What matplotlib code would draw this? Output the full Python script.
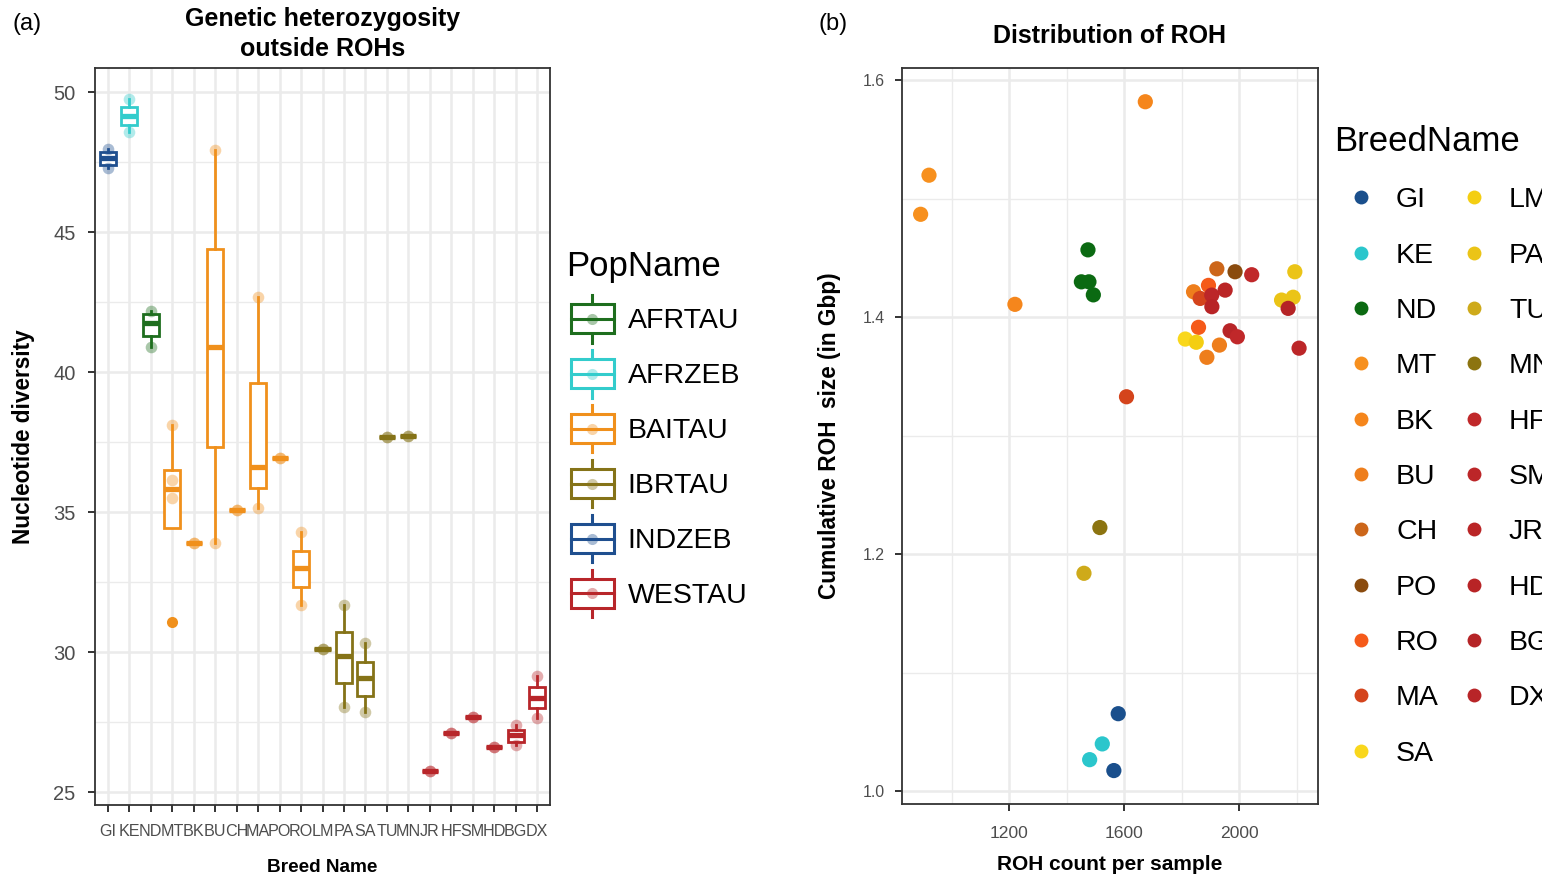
import matplotlib
matplotlib.use('Agg')
import matplotlib.pyplot as plt
from matplotlib.lines import Line2D
from matplotlib.patches import Rectangle
from matplotlib.legend_handler import HandlerBase
from matplotlib.ticker import MultipleLocator, FixedLocator
import numpy as np

plt.rcParams['font.family'] = ['Liberation Sans', 'DejaVu Sans']

# ---------------- data: panel (a) ----------------
breeds = ['GI', 'KE', 'ND', 'MT', 'BK', 'BU', 'CH', 'MA', 'PO', 'RO', 'LM',
          'PA', 'SA', 'TU', 'MN', 'JR', 'HF', 'SM', 'HD', 'BG', 'DX']
breed_pop = ['INDZEB', 'AFRZEB', 'AFRTAU', 'BAITAU', 'BAITAU', 'BAITAU', 'BAITAU',
             'BAITAU', 'BAITAU', 'BAITAU', 'IBRTAU', 'IBRTAU', 'IBRTAU', 'IBRTAU',
             'IBRTAU', 'WESTAU', 'WESTAU', 'WESTAU', 'WESTAU', 'WESTAU', 'WESTAU']
pops = ['AFRTAU', 'AFRZEB', 'BAITAU', 'IBRTAU', 'INDZEB', 'WESTAU']
pop_colors = ['#1E6E1E', '#33CCCC', '#F0901C', '#857318', '#1F4F8F', '#B8262A']

div_whislo = [47.30, 48.58, 40.88, 34.42, 33.88, 33.88, 35.07, 35.13, 36.95, 31.68, 30.10,
              28.05, 27.87, 37.67, 37.71, 25.75, 27.10, 27.69, 26.60, 26.68, 27.63]
div_q1 = [47.39, 48.82, 41.29, 34.42, 33.88, 37.33, 35.07, 35.85, 36.95, 32.33, 30.10,
          28.90, 28.43, 37.67, 37.71, 25.75, 27.10, 27.69, 26.60, 26.80, 27.99]
div_med = [47.64, 49.15, 41.74, 35.81, 33.88, 40.88, 35.07, 36.62, 36.95, 32.99, 30.10,
           29.86, 29.08, 37.67, 37.71, 25.75, 27.10, 27.69, 26.60, 27.04, 28.35]
div_q3 = [47.86, 49.48, 42.07, 36.50, 33.88, 44.38, 35.07, 39.62, 36.95, 33.60, 30.10,
          30.73, 29.65, 37.67, 37.71, 25.75, 27.10, 27.69, 26.60, 27.21, 28.74]
div_whishi = [47.96, 49.74, 42.19, 38.11, 33.88, 47.93, 35.07, 42.69, 36.95, 34.30, 30.10,
              31.68, 30.31, 37.67, 37.71, 25.75, 27.10, 27.69, 26.60, 27.39, 29.14]
div_outliers = [[], [], [], [31.08], [], [], [], [], [], [], [],
                [], [], [], [], [], [], [], [], [], []]
div_samples = [[47.96, 47.30], [49.74, 48.58], [42.19, 40.88], [38.11, 36.14, 35.50],
               [33.88, 33.88], [47.93, 33.88], [35.07, 35.07], [42.69, 35.13],
               [36.95, 36.95], [34.30, 31.68], [30.10, 30.10], [31.68, 28.05],
               [30.31, 27.87], [37.67, 37.67], [37.71, 37.71], [25.75, 25.75],
               [27.10, 27.10], [27.69, 27.69], [26.60, 26.60], [27.39, 26.68],
               [29.14, 27.63]]

# ---------------- data: panel (b) ----------------
breed_colors = ['#1A4F8C', '#2BC6CC', '#0B6A12', '#F7901E', '#F5861C', '#EE7E1C',
                '#CC661A', '#8A4B0E', '#F55A1A', '#D4441C', '#F9D71C', '#F4CE12',
                '#EBC417', '#CEAA1A', '#8C7410', '#C0282A', '#BC2628', '#BA2526',
                '#B82426', '#B52426', '#B82528']
legend_breeds = ['GI', 'KE', 'ND', 'MT', 'BK', 'BU', 'CH', 'PO', 'RO', 'MA', 'SA',
                 'LM', 'PA', 'TU', 'MN', 'HF', 'SM', 'JR', 'HD', 'BG', 'DX']

roh_breed = ['MT', 'MT', 'BK', 'BK', 'BU', 'BU', 'BU', 'ND', 'ND', 'ND', 'ND',
             'MA', 'MA', 'RO', 'RO', 'CH', 'PO', 'SA', 'LM', 'PA', 'PA', 'PA',
             'TU', 'MN', 'GI', 'GI', 'KE', 'KE',
             'HF', 'SM', 'JR', 'HD', 'BG', 'DX', 'HF', 'SM']
roh_count = [891.8, 920.9, 1673.0, 1219.7, 1840.7, 1930.7, 1887.0, 1473.6, 1450.7, 1477.0, 1492.3,
             1607.6, 1863.8, 1892.6, 1858.0, 1921.7, 1985.0, 1812.0, 1850.0, 2146.7, 2187.0, 2192.8,
             1459.7, 1515.0, 1578.8, 1563.6, 1523.4, 1479.5,
             2042.9, 1904.0, 1950.5, 1904.4, 2169.6, 1967.7, 1993.0, 2207.6]
roh_size = [1.487, 1.520, 1.582, 1.411, 1.4216, 1.3766, 1.3663, 1.457, 1.430, 1.430, 1.419,
            1.333, 1.416, 1.427, 1.3916, 1.441, 1.4385, 1.3817, 1.379, 1.4146, 1.417, 1.4385,
            1.184, 1.2226, 1.0655, 1.0175, 1.040, 1.0267,
            1.436, 1.4188, 1.423, 1.409, 1.4076, 1.3887, 1.3836, 1.374]

# ---------------- figure ----------------
W, H = 1542, 875
fig = plt.figure(figsize=(W / 100, H / 100), dpi=100, facecolor='white')

GRID = '#EBEBEB'
SPINE = '#333333'
TICKC = '#4D4D4D'


def style_axes(ax):
    for s in ax.spines.values():
        s.set_color(SPINE)
        s.set_linewidth(1.3)
    ax.set_axisbelow(True)
    ax.grid(which='major', color=GRID, lw=1.8)
    ax.tick_params(which='major', length=5, width=1.4, color=SPINE, labelcolor=TICKC)
    ax.tick_params(which='minor', length=0)


# ---- panel (a)
ax1 = fig.add_axes([95 / W, 1 - 805 / H, 455 / W, 737 / H])
style_axes(ax1)
pop_col = dict(zip(pops, pop_colors))
stats = []
for i, b in enumerate(breeds):
    stats.append(dict(whislo=div_whislo[i], q1=div_q1[i], med=div_med[i],
                      q3=div_q3[i], whishi=div_whishi[i], fliers=div_outliers[i]))
pos = np.arange(len(breeds))
bp = ax1.bxp(stats, positions=pos, widths=0.75, patch_artist=True, showcaps=False,
             boxprops=dict(facecolor='white', linewidth=2.0),
             whiskerprops=dict(linewidth=2.0), medianprops=dict(linewidth=3.8),
             flierprops=dict(marker='o', markersize=8, markeredgewidth=0))
for i, b in enumerate(breeds):
    c = pop_col[breed_pop[i]]
    bp['boxes'][i].set_edgecolor(c)
    bp['medians'][i].set_color(c)
    bp['medians'][i].set_solid_capstyle('butt')
    bp['whiskers'][2 * i].set_color(c)
    bp['whiskers'][2 * i + 1].set_color(c)
    bp['fliers'][i].set_markerfacecolor(c)
    ys = div_samples[i]
    ax1.scatter([i] * len(ys), ys, s=70, color=c, alpha=0.38, linewidths=0, zorder=5)

ax1.set_xlim(-0.6, len(breeds) - 0.4)
ax1.set_ylim(24.54, 50.86)
ax1.set_xticks(pos)
ax1.set_xticklabels(breeds, fontsize=11.6)
ax1.yaxis.set_major_locator(MultipleLocator(5))
ax1.yaxis.set_minor_locator(MultipleLocator(2.5))
ax1.grid(which='minor', axis='y', color=GRID, lw=1.0)
ax1.grid(which='major', axis='x', color=GRID, lw=1.8)
ax1.tick_params(axis='y', labelsize=14.5, pad=9)
ax1.tick_params(axis='x', pad=9)
ax1.set_xlabel('Breed Name', fontsize=13.7, fontweight='bold', labelpad=14)
ax1.set_ylabel('Nucleotide diversity', fontsize=16.3, fontweight='bold', labelpad=13)
ax1.set_title('Genetic heterozygosity\noutside ROHs', fontsize=18, fontweight='bold',
              pad=9, linespacing=1.28)
fig.text(12 / W, 1 - 24 / H, '(a)', fontsize=17, va='center', ha='left')


class BoxGlyph:
    def __init__(self, color):
        self.color = color


class HandlerBoxGlyph(HandlerBase):
    def create_artists(self, legend, orig_handle, xdescent, ydescent, width,
                       height, fontsize, trans):
        c = orig_handle.color
        x0, y0 = -xdescent, -ydescent
        cx, cy = x0 + width / 2, y0 + height / 2
        bw = width * 0.8
        whisk = Line2D([cx, cx], [y0 - height * 0.12, y0 + height * 1.12], color=c,
                       lw=2.2, transform=trans)
        box = Rectangle((cx - bw / 2, y0 + height * 0.12), bw, height * 0.76,
                        facecolor='white', edgecolor=c, lw=2.2, transform=trans)
        med = Line2D([cx - bw / 2, cx + bw / 2], [cy, cy], color=c, lw=2.2, transform=trans)
        dot = Line2D([cx], [cy], marker='o', ms=8, color=c, alpha=0.38, ls='',
                     markeredgewidth=0, transform=trans)
        return [whisk, box, med, dot]


leg1 = fig.legend([BoxGlyph(c) for c in pop_colors], pops, title='PopName',
                  handler_map={BoxGlyph: HandlerBoxGlyph()},
                  loc='upper left', bbox_to_anchor=(566 / W, 1 - 250 / H),
                  frameon=False, fontsize=20.5, title_fontsize=25, alignment='left',
                  handlelength=1.86, handleheight=1.7, handletextpad=0.3,
                  labelspacing=0.58, borderpad=0.0, borderaxespad=0.0)

# ---- panel (b)
ax2 = fig.add_axes([901.7 / W, 1 - 804 / H, 416.3 / W, 735.7 / H])
style_axes(ax2)
bcol = dict(zip(legend_breeds, breed_colors))
ax2.scatter(roh_count, roh_size, s=120, c=[bcol[b] for b in roh_breed],
            linewidths=0, zorder=3)
xr = max(roh_count) - min(roh_count)
yr = max(roh_size) - min(roh_size)
ax2.set_xlim(min(roh_count) - 0.05 * xr, max(roh_count) + 0.05 * xr)
ax2.set_ylim(min(roh_size) - 0.05 * yr, max(roh_size) + 0.05 * yr)
ax2.xaxis.set_major_locator(MultipleLocator(400))
ax2.xaxis.set_minor_locator(FixedLocator([1000, 1400, 1800, 2200]))
ax2.yaxis.set_major_locator(MultipleLocator(0.2))
ax2.yaxis.set_minor_locator(FixedLocator([1.1, 1.3, 1.5]))
ax2.grid(which='minor', color=GRID, lw=1.0)
ax2.yaxis.set_major_formatter(matplotlib.ticker.FormatStrFormatter('%.1f'))
ax2.tick_params(axis='y', labelsize=11.4, pad=7)
ax2.tick_params(axis='x', labelsize=12.6, pad=11)
ax2.set_xlabel('ROH count per sample', fontsize=15, fontweight='bold', labelpad=10)
ax2.set_ylabel('Cumulative ROH  size (in Gbp)', fontsize=16.3, fontweight='bold', labelpad=16)
ax2.set_title('Distribution of ROH', fontsize=18, fontweight='bold', pad=18)
fig.text(818 / W, 1 - 24 / H, '(b)', fontsize=17, va='center', ha='left')

handles2 = [Line2D([], [], marker='o', ls='', color=c, ms=10, markeredgewidth=0)
            for c in breed_colors]
leg2 = fig.legend(handles2, legend_breeds, title='BreedName', ncol=2,
                  loc='upper left', bbox_to_anchor=(1334 / W, 1 - 125 / H),
                  frameon=False, fontsize=20.5, title_fontsize=25, alignment='left',
                  handlelength=1.9, handletextpad=0.28, columnspacing=0.28,
                  labelspacing=1.03, borderpad=0.0, borderaxespad=0.0)

fig.savefig('out.png', dpi=100, facecolor='white')
